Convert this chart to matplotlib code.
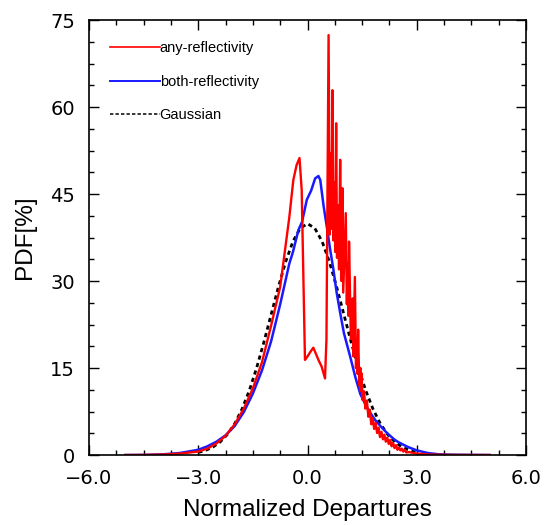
import matplotlib
matplotlib.use("Agg")
import matplotlib.pyplot as plt
from matplotlib.lines import Line2D
from matplotlib.ticker import MultipleLocator

# Data
x_any = [-5.0, -4.5, -4.0, -3.5, -3.0, -2.75, -2.5, -2.25, -2.0, -1.75, -1.5, -1.25,
         -1.0, -0.75, -0.5, -0.39, -0.3, -0.22, -0.16, -0.07, 0.0, 0.08, 0.16, 0.22,
         0.3, 0.39, 0.48, 0.52, 0.578, 0.61, 0.635, 0.66, 0.685, 0.71, 0.74, 0.76,
         0.786, 0.81, 0.84, 0.865, 0.896, 0.93, 0.96, 0.98, 1.05, 1.08, 1.1, 1.12,
         1.14, 1.19, 1.24, 1.26, 1.30, 1.33, 1.36, 1.37, 1.39, 1.42, 1.45, 1.46,
         1.48, 1.51, 1.55, 1.59, 1.63, 1.67, 1.71, 1.75, 1.79, 1.83, 1.87, 1.91,
         1.95, 1.99, 2.03, 2.07, 2.11, 2.15, 2.19, 2.23, 2.27, 2.31, 2.35, 2.39,
         2.43, 2.47, 2.51, 2.55, 2.59, 2.63, 2.67, 2.71, 2.8, 2.9, 3.0, 3.3, 3.6,
         4.0, 4.5, 5.0]
y_any = [0.0, 0.02, 0.08, 0.25, 0.6, 1.1, 2.0, 3.3, 5.3, 8.0, 11.5, 16.0,
         22.3, 29.0, 41.0, 47.4, 50.0, 51.2, 45.7, 16.4, 17.0, 17.8, 18.5, 17.6,
         16.4, 15.2, 13.2, 20.0, 72.4, 38.0, 52.0, 39.0, 62.9, 37.0, 47.0, 35.0,
         57.2, 34.0, 43.0, 32.0, 50.9, 30.0, 46.0, 28.0, 41.7, 26.0, 33.0, 24.0,
         36.8, 20.0, 27.0, 17.0, 30.7, 15.0, 20.0, 14.0, 21.6, 12.0, 15.0, 11.0,
         14.1, 9.5, 11.0, 8.0, 9.4, 6.6, 7.8, 5.3, 6.4, 4.5, 5.5, 3.8,
         4.7, 3.1, 4.0, 2.7, 3.5, 2.3, 3.0, 1.9, 2.6, 1.5, 2.1, 1.2,
         1.7, 0.9, 1.3, 0.8, 1.1, 0.6, 0.9, 0.45, 0.5, 0.35, 0.25, 0.1, 0.05,
         0.02, 0.01, 0.0]

x_both = [-5.0, -4.5, -4.0, -3.5, -3.0, -2.75, -2.5, -2.25, -2.0, -1.75, -1.5, -1.25,
          -1.0, -0.75, -0.5, -0.4, -0.25, -0.15, -0.02, 0.1, 0.21, 0.3, 0.35, 0.44,
          0.55, 0.62, 0.71, 0.8, 0.9, 1.0, 1.17, 1.31, 1.45, 1.6, 1.72, 1.85, 2.0,
          2.15, 2.27, 2.4, 2.5, 2.75, 3.0, 3.3, 3.6, 4.0, 4.5, 5.0]
y_both = [0.0, 0.02, 0.1, 0.35, 0.9, 1.5, 2.3, 3.4, 5.0, 7.4, 10.6, 14.6,
          19.6, 26.0, 33.0, 35.0, 38.8, 40.2, 44.0, 45.6, 47.7, 48.1, 47.4, 43.0,
          38.5, 35.5, 32.0, 28.0, 24.4, 21.0, 17.0, 13.5, 10.5, 8.6, 7.3, 6.1, 5.0,
          4.0, 3.3, 2.6, 2.2, 1.4, 0.8, 0.35, 0.12, 0.05, 0.02, 0.0]

x_gauss = [-3.0, -2.8, -2.6, -2.4, -2.2, -2.0, -1.8, -1.6, -1.4, -1.2, -1.0, -0.8,
           -0.6, -0.4, -0.2, 0.0, 0.2, 0.4, 0.6, 0.8, 1.0, 1.2, 1.4, 1.6, 1.8, 2.0,
           2.2, 2.4, 2.6, 2.8, 3.0]
y_gauss = [0.44, 0.79, 1.36, 2.24, 3.55, 5.40, 7.90, 11.09, 14.97, 19.42, 24.20, 28.97,
           33.32, 36.83, 39.10, 39.89, 39.10, 36.83, 33.32, 28.97, 24.20, 19.42, 14.97,
           11.09, 7.90, 5.40, 3.55, 2.24, 1.36, 0.79, 0.44]

labels = ['any-reflectivity', 'both-reflectivity', 'Gaussian']

label_font = 'Liberation Sans'

fig = plt.figure(figsize=(5.44, 5.25), dpi=100)
ax = fig.add_axes([0.1636, 0.1333, 0.8034, 0.8286])

ax.plot(x_gauss, y_gauss, color='black', lw=2.0, dashes=(1.5, 1.3))
ax.plot(x_both, y_both, color='#1a1aff', lw=1.8)
ax.plot(x_any, y_any, color='#ff0000', lw=1.7)

ax.set_xlim(-6, 6)
ax.set_ylim(0, 75)
ax.xaxis.set_minor_locator(MultipleLocator(0.75))
ax.yaxis.set_minor_locator(MultipleLocator(3.75))
ax.set_xticks([-6, -3, 0, 3, 6])
ax.set_xticklabels(['\u22126.0', '\u22123.0', '0.0', '3.0', '6.0'])
ax.set_yticks([0, 15, 30, 45, 60, 75])
ax.set_yticklabels(['0', '15', '30', '45', '60', '75'])

ax.tick_params(which='both', direction='in', top=True, right=True, width=1.0,
               labelsize=14, pad=10, colors='black')
ax.tick_params(which='major', length=7.5)
ax.tick_params(which='minor', length=3.8)
for s in ax.spines.values():
    s.set_linewidth(1.2)

ax.set_xlabel('Normalized Departures', fontsize=17.5, family=label_font, labelpad=8)
ax.set_ylabel('PDF[%]', fontsize=17.5, family=label_font, labelpad=10)

handles = [Line2D([], [], color='#ff0000', lw=1.2),
           Line2D([], [], color='#1a1aff', lw=1.4),
           Line2D([], [], color='black', lw=1.1, dashes=(2.2, 1.4))]
ax.legend(handles, labels, loc='upper left', bbox_to_anchor=(0.048, 0.951),
          frameon=False, borderpad=0, borderaxespad=0, handlelength=3.4,
          handletextpad=0, labelspacing=1.33,
          prop={'family': label_font, 'size': 10.5})

fig.savefig('out.png', dpi=100)
